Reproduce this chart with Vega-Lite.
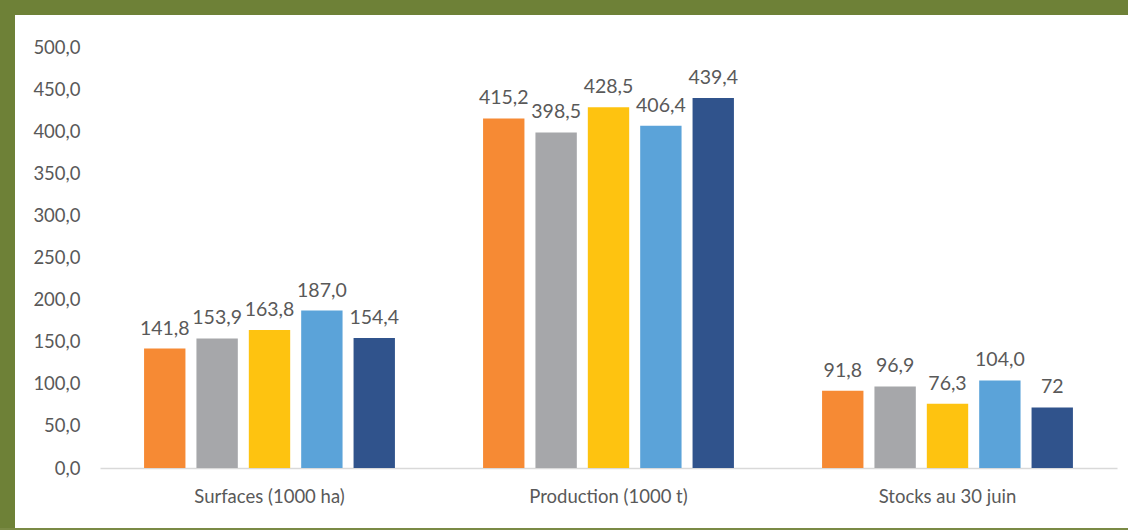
{
  "$schema": "https://vega.github.io/schema/vega-lite/v6.json",
  "padding": 0,
  "background": "white",
  "config": {
    "view": {"stroke": null},
    "font": "Lato",
    "locale": {"number": {"decimal": ",", "thousands": " ", "grouping": [3], "currency": ["", " €"]}}
  },
  "spacing": 0,
  "vconcat": [
    {
      "width": 1128,
      "height": 15,
      "view": {"fill": "#6E8137", "stroke": null},
      "data": {"values": []},
      "mark": "rect",
      "encoding": {}
    },
    {
      "spacing": 0,
      "hconcat": [
        {
          "width": 15,
          "height": 513,
          "view": {"fill": "#6E8137", "stroke": null},
          "data": {"values": []},
          "mark": "rect",
          "encoding": {}
        },
        {
          "spacing": 3,
          "vconcat": [
            {
              "width": 10,
              "height": 0,
              "data": {"values": []},
              "mark": "rect",
              "encoding": {}
            },
            {
              "width": 1017,
              "height": 421,
              "data": {
                "values": [
                  {"categorie": "Surfaces (1000 ha)", "serie": "S1", "valeur": 141.8, "label": "141,8"},
                  {"categorie": "Surfaces (1000 ha)", "serie": "S2", "valeur": 153.9, "label": "153,9"},
                  {"categorie": "Surfaces (1000 ha)", "serie": "S3", "valeur": 163.8, "label": "163,8"},
                  {"categorie": "Surfaces (1000 ha)", "serie": "S4", "valeur": 187.0, "label": "187,0"},
                  {"categorie": "Surfaces (1000 ha)", "serie": "S5", "valeur": 154.4, "label": "154,4"},
                  {"categorie": "Production (1000 t)", "serie": "S1", "valeur": 415.2, "label": "415,2"},
                  {"categorie": "Production (1000 t)", "serie": "S2", "valeur": 398.5, "label": "398,5"},
                  {"categorie": "Production (1000 t)", "serie": "S3", "valeur": 428.5, "label": "428,5"},
                  {"categorie": "Production (1000 t)", "serie": "S4", "valeur": 406.4, "label": "406,4"},
                  {"categorie": "Production (1000 t)", "serie": "S5", "valeur": 439.4, "label": "439,4"},
                  {"categorie": "Stocks au 30 juin", "serie": "S1", "valeur": 91.8, "label": "91,8"},
                  {"categorie": "Stocks au 30 juin", "serie": "S2", "valeur": 96.9, "label": "96,9"},
                  {"categorie": "Stocks au 30 juin", "serie": "S3", "valeur": 76.3, "label": "76,3"},
                  {"categorie": "Stocks au 30 juin", "serie": "S4", "valeur": 104.0, "label": "104,0"},
                  {"categorie": "Stocks au 30 juin", "serie": "S5", "valeur": 72, "label": "72"}
                ]
              },
              "encoding": {
                "x": {
                  "field": "categorie",
                  "type": "nominal",
                  "sort": null,
                  "scale": {"paddingInner": 0.26, "paddingOuter": 0.13},
                  "axis": {
                    "title": null,
                    "labelAngle": 0,
                    "ticks": false,
                    "tickSize": 0,
                    "domainColor": "#D9D9D9",
                    "domainWidth": 1.5,
                    "labelColor": "#595959",
                    "labelFontSize": 18.5,
                    "labelBaseline": "alphabetic",
                    "labelPadding": 34,
                    "minExtent": 59,
                    "maxExtent": 59
                  }
                },
                "xOffset": {
                  "field": "serie",
                  "type": "nominal",
                  "sort": null,
                  "scale": {"paddingInner": 0.21, "paddingOuter": 0}
                },
                "y": {
                  "field": "valeur",
                  "type": "quantitative",
                  "scale": {"domain": [0, 500], "nice": false},
                  "axis": {
                    "title": null,
                    "values": [0, 50, 100, 150, 200, 250, 300, 350, 400, 450, 500],
                    "format": ".1f",
                    "grid": false,
                    "domain": false,
                    "ticks": false,
                    "tickSize": 0,
                    "labelColor": "#595959",
                    "labelFontSize": 18.5,
                    "labelPadding": 20,
                    "minExtent": 85,
                    "maxExtent": 85
                  }
                }
              },
              "layer": [
                {
                  "mark": {"type": "bar"},
                  "encoding": {
                    "color": {
                      "field": "serie",
                      "type": "nominal",
                      "sort": null,
                      "scale": {"range": ["#F68A34", "#A6A7AA", "#FEC310", "#5BA3D9", "#30538C"]},
                      "legend": null
                    }
                  }
                },
                {
                  "mark": {"type": "text", "baseline": "alphabetic", "dy": -14, "fontSize": 19.5, "color": "#595959"},
                  "encoding": {"text": {"field": "label", "type": "nominal"}}
                }
              ]
            }
          ]
        }
      ]
    },
    {
      "width": 1128,
      "height": 2,
      "view": {"fill": "#7A8A45", "stroke": null},
      "data": {"values": []},
      "mark": "rect",
      "encoding": {}
    }
  ]
}
